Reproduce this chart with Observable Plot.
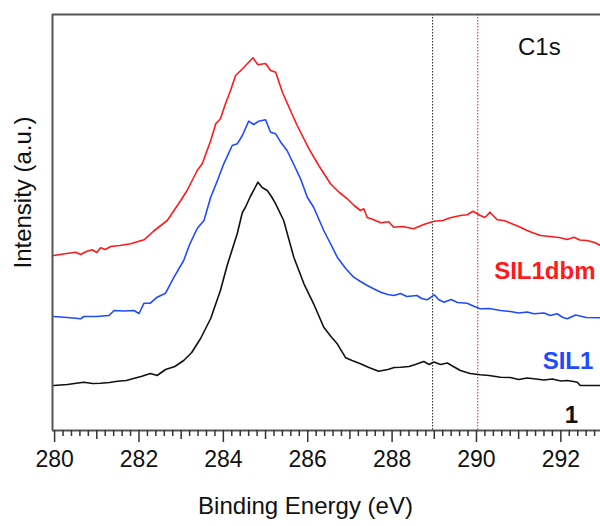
<!DOCTYPE html>
<html>
<head>
<meta charset="utf-8">
<script src="https://cdn.jsdelivr.net/npm/d3@7"></script>
<script src="https://cdn.jsdelivr.net/npm/@observablehq/plot@0.6"></script>
<style>
  html, body { margin: 0; padding: 0; background: #fff; }
</style>
</head>
<body>
<div id="chart"></div>
<script>
// Binding energy (eV), intensity (a.u.) pairs
const sample1 = [
  [279.98,45],[280.3,46],[280.69,48.3],[280.9,47],[281.09,47.3],[281.3,48],[281.49,49.3],[281.7,50],
  [281.87,52],[282.05,54],[282.27,57],[282.43,55],[282.63,61],[282.85,64],[283.06,70],[283.25,78],
  [283.46,92],[283.7,112],[283.93,140],[284.09,165],[284.33,197],[284.45,218],[284.52,223],[284.64,234],
  [284.82,248.3],[284.92,243],[285.04,240],[285.14,234],[285.24,226.7],[285.43,210],[285.67,173.3],[285.91,146.7],
  [286.14,126.7],[286.38,103.3],[286.55,94],[286.7,86.7],[286.9,72.7],[287.05,70],[287.25,66.7],[287.45,63],
  [287.68,59.3],[287.9,61],[288.05,63],[288.2,63.3],[288.4,64],[288.55,66],[288.75,69],[288.88,66],
  [288.99,68.5],[289.15,66],[289.31,67.5],[289.45,64],[289.62,60],[289.85,57],[290.09,55.7],[290.3,55],
  [290.57,53.3],[290.8,53],[291.0,51],[291.2,52.5],[291.36,51.7],[291.6,50.5],[291.8,51.5],[292.0,49.5],
  [292.15,50],[292.3,49],[292.39,48.3],[292.46,45],[292.7,45],[292.94,45]
];
const sil1 = [
  [279.98,114],[280.3,113],[280.62,111.7],[280.69,114],[281.0,114],[281.29,115],[281.41,120],[281.65,119.5],
  [281.88,120],[282.0,117],[282.12,127.3],[282.27,127.3],[282.43,133.3],[282.63,137.3],[282.83,153.3],[283.06,170],
  [283.2,186],[283.38,202],[283.54,210],[283.7,233.3],[283.86,250],[284.01,266.7],[284.21,285],[284.33,286.7],
  [284.45,295],[284.6,309.3],[284.72,306],[284.84,309.3],[285.0,310.7],[285.12,298.3],[285.24,296.7],[285.36,288.3],
  [285.51,280],[285.67,266],[285.83,251.7],[285.99,233.3],[286.14,223.3],[286.38,200],[286.55,186],[286.7,173.3],
  [286.9,162],[287.09,153.3],[287.25,149],[287.41,145],[287.55,142],[287.73,138.3],[287.9,136],[288.04,135],
  [288.2,137],[288.35,134],[288.59,135],[288.7,132],[288.83,130.7],[289.0,135.7],[289.1,131],[289.23,128.3],
  [289.4,131],[289.55,128],[289.78,127.3],[289.95,124],[290.09,121.7],[290.3,122],[290.57,120],[290.8,119],
  [291.0,117.5],[291.2,118.5],[291.36,116.7],[291.6,117.5],[291.75,115],[291.91,116.7],[292.05,113],[292.15,111.7],
  [292.35,115.5],[292.6,113],[292.94,112.7]
];
const sil1dbm = [
  [279.98,175],[280.2,176.5],[280.5,178.3],[280.62,176],[280.75,179],[280.89,180.7],[281.0,178],[281.09,182.7],
  [281.2,181],[281.33,184],[281.55,185],[281.8,186.7],[282.12,190.7],[282.35,199.5],[282.67,210],[282.99,230],
  [283.14,240],[283.38,260],[283.5,266.7],[283.7,290],[283.82,306.7],[283.93,311.7],[284.05,326.7],[284.17,340],
  [284.29,355],[284.49,363.3],[284.7,372.7],[284.82,365.7],[285.0,367],[285.12,360],[285.24,358.3],[285.4,338.3],
  [285.59,320],[285.75,305],[286.03,281.7],[286.26,265],[286.54,246.7],[286.75,238],[286.94,231.7],[287.1,225],
  [287.25,220],[287.33,221.7],[287.41,213],[287.55,211],[287.73,207.8],[287.92,208.8],[288.04,203.3],[288.25,204],
  [288.51,201.7],[288.75,206],[288.99,209.3],[289.2,210],[289.38,212.7],[289.62,215],[289.78,215.7],[289.92,219.3],
  [290.09,215],[290.2,213],[290.32,218.3],[290.49,210.7],[290.65,210],[290.81,207.3],[291.0,204],[291.2,200],
  [291.35,197.5],[291.52,195],[291.75,194],[291.99,192.7],[292.15,191],[292.31,193.3],[292.45,190.5],[292.62,190],
  [292.8,188],[292.94,185]
];

// Reference lines (eV)
const refLines = [
  { e: 288.96, color: "#222" },
  { e: 290.03, color: "#ff1a1a" }
];

// Axis ticks
const majorTicks = [280, 282, 284, 286, 288, 290, 292];
const midTicks = [281, 283, 285, 287, 289, 291];
const minorTicks = d3.range(0, 65).map(k => 280 + k * 0.2).filter(v => Math.abs(v - Math.round(v)) > 0.05);

// Text labels
const xLabel = "Binding Energy (eV)";
const yLabel = "Intensity (a.u.)";
const annotations = [
  { e: 291.49, i: 383, text: "C1s", color: "#111", weight: "normal" },
  { e: 291.62, i: 159, text: "SIL1dbm", color: "#ff1a1a", weight: "bold" },
  { e: 292.17, i: 69.5, text: "SIL1", color: "#1f4bff", weight: "bold" },
  { e: 292.25, i: 15.5, text: "1", color: "#111", weight: "bold" }
];

const toRows = arr => arr.map(([e, i]) => ({ e, i }));
const axisColor = "#555";
const font = "'Liberation Sans', Arial, Helvetica, sans-serif";

const chart = Plot.plot({
  width: 600,
  height: 526,
  marginTop: 14,
  marginBottom: 96,
  marginLeft: 52,
  marginRight: 0,
  style: { fontFamily: font, background: "white", color: "#111" },
  x: { domain: [279.95, 292.94] },
  y: { domain: [0, 416], axis: null },
  marks: [
    Plot.ruleX(refLines.filter(d => d.color === "#222"), { x: "e", stroke: "#222", strokeWidth: 1, strokeDasharray: "1.5,1.5" }),
    Plot.ruleX(refLines.filter(d => d.color !== "#222"), { x: "e", stroke: "#ff1a1a", strokeWidth: 1, strokeDasharray: "1.5,1.5" }),
    Plot.line(toRows(sample1), { x: "e", y: "i", stroke: "#111", strokeWidth: 1.6 }),
    Plot.line(toRows(sil1), { x: "e", y: "i", stroke: "#1f4bff", strokeWidth: 1.6 }),
    Plot.line(toRows(sil1dbm), { x: "e", y: "i", stroke: "#ff1a1a", strokeWidth: 1.6 }),
    Plot.ruleX([279.95], { stroke: axisColor, strokeWidth: 2 }),
    Plot.ruleY([0, 416], { stroke: axisColor, strokeWidth: 2 }),
    Plot.axisX({ ticks: majorTicks, tickSize: 12, tickPadding: 8, fontSize: 23, label: null, stroke: "#333", strokeWidth: 1.5 }),
    Plot.axisX({ ticks: midTicks, tickSize: 9, tickFormat: () => "", label: null, stroke: "#333", strokeWidth: 1.5 }),
    Plot.axisX({ ticks: minorTicks, tickSize: 6, tickFormat: () => "", label: null, stroke: "#333", strokeWidth: 1.5 }),
    Plot.text([xLabel], { frameAnchor: "bottom", text: d => d, dx: -21, dy: 83, fontSize: 24, fill: "#111" }),
    Plot.text([yLabel], { frameAnchor: "left", textAnchor: "middle", text: d => d, rotate: -90, dx: -29, dy: -30, fontSize: 24, fill: "#111" }),
    Plot.text(annotations.filter(d => d.weight === "normal"), { x: "e", y: "i", text: "text", fill: "color", fontSize: 24 }),
    Plot.text(annotations.filter(d => d.weight === "bold"), { x: "e", y: "i", text: "text", fill: "color", fontSize: 24, fontWeight: "bold" })
  ]
});
document.getElementById("chart").appendChild(chart);
</script>
</body>
</html>
